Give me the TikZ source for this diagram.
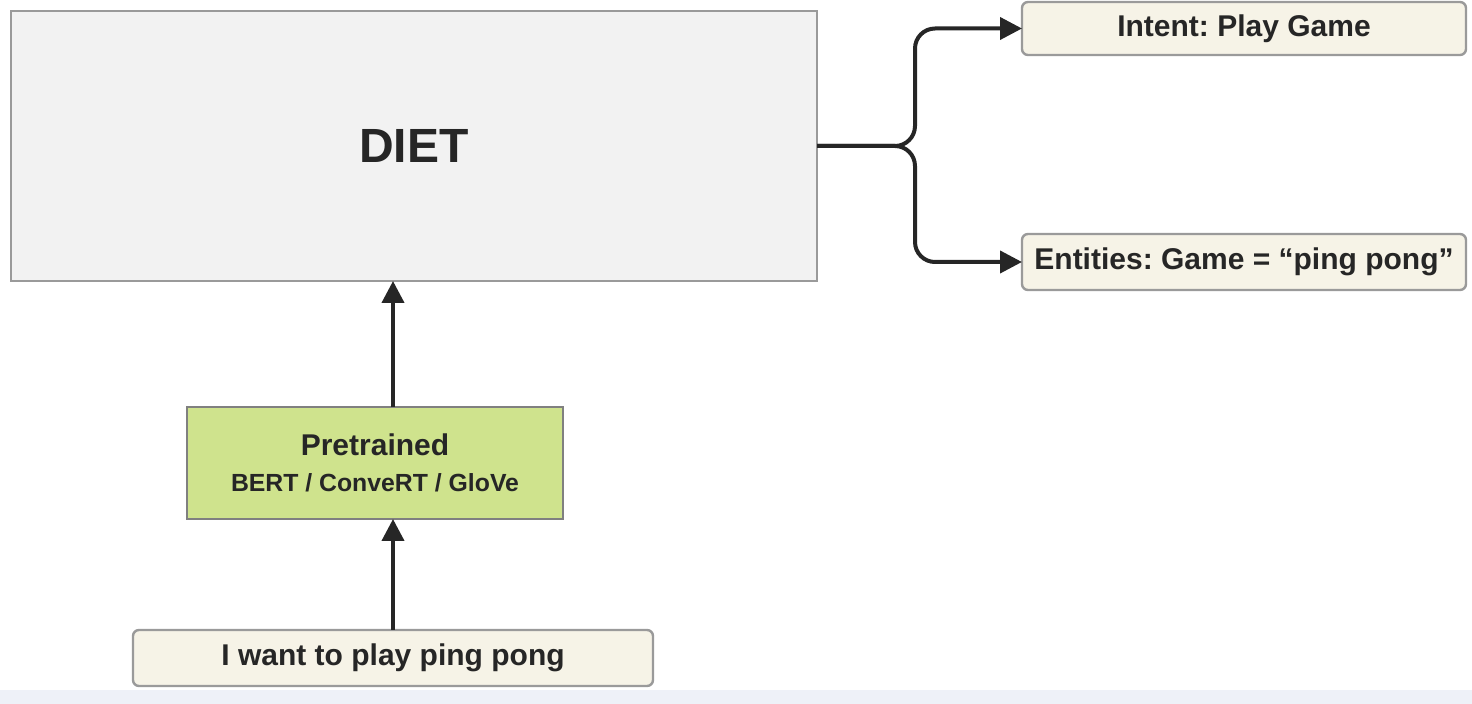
\documentclass[tikz,border=0pt]{standalone}
\usepackage{fontspec}
\setmainfont{Liberation Sans}
\usetikzlibrary{arrows.meta}
\frenchspacing

\definecolor{dietfill}{HTML}{F2F2F2}
\definecolor{creamfill}{HTML}{F6F3E7}
\definecolor{greenfill}{HTML}{CFE38D}
\definecolor{boxline}{HTML}{9A9A9A}
\definecolor{textgray}{HTML}{262626}
\definecolor{stripfill}{HTML}{EEF1F8}

\begin{document}
\begin{tikzpicture}[x=0.5pt, y=-0.5pt,
        box/.style={draw=boxline, line width=1.2pt, inner sep=0pt, outer sep=0pt, text=textgray, font=\bfseries, align=center},
        tag/.style={box, fill=creamfill, rounded corners=3pt, minimum width=222pt, font=\bfseries\fontsize{15}{18}\selectfont},
        link/.style={-{Triangle[length=11pt, width=11pt]}, line width=2pt, textgray}]
        \useasboundingbox (0, 0) rectangle (1472, 704);
        \fill[stripfill] (0, 690) rectangle (1472, 704);

        \node[box, fill=dietfill, minimum width=403pt, minimum height=135pt, font=\bfseries\fontsize{24}{28}\selectfont] (diet) at (414, 146) {DIET};
        \node[tag, minimum height=26.5pt] (intent) at (1244, 28.5) {Intent: Play Game};
        \node[tag, minimum height=28pt] (entities) at (1244, 262) {Entities: Game = “ping pong”};
        \node[box, fill=greenfill, draw=gray, minimum width=188pt, minimum height=56pt] (pretrained) at (375, 463)
            {{\fontsize{15}{18}\selectfont Pretrained}\\[6pt]{\fontsize{12.4}{15}\selectfont BERT / ConveRT / GloVe}};
        \node[tag, minimum width=260pt, minimum height=28pt] (input) at (393, 658) {I want to play ping pong};

        \coordinate (fork) at (915, 146);
        \draw[link, rounded corners=10pt] (diet.east) -- (fork) |- (intent.west);
        \draw[link, rounded corners=10pt] (diet.east) -- (fork) |- (entities.west);

        \draw[link] (input.north) to (input.north |- pretrained.south);
        \draw[link] (input.north |- pretrained.north) to (input.north |- diet.south);
    \end{tikzpicture}
\end{document}
